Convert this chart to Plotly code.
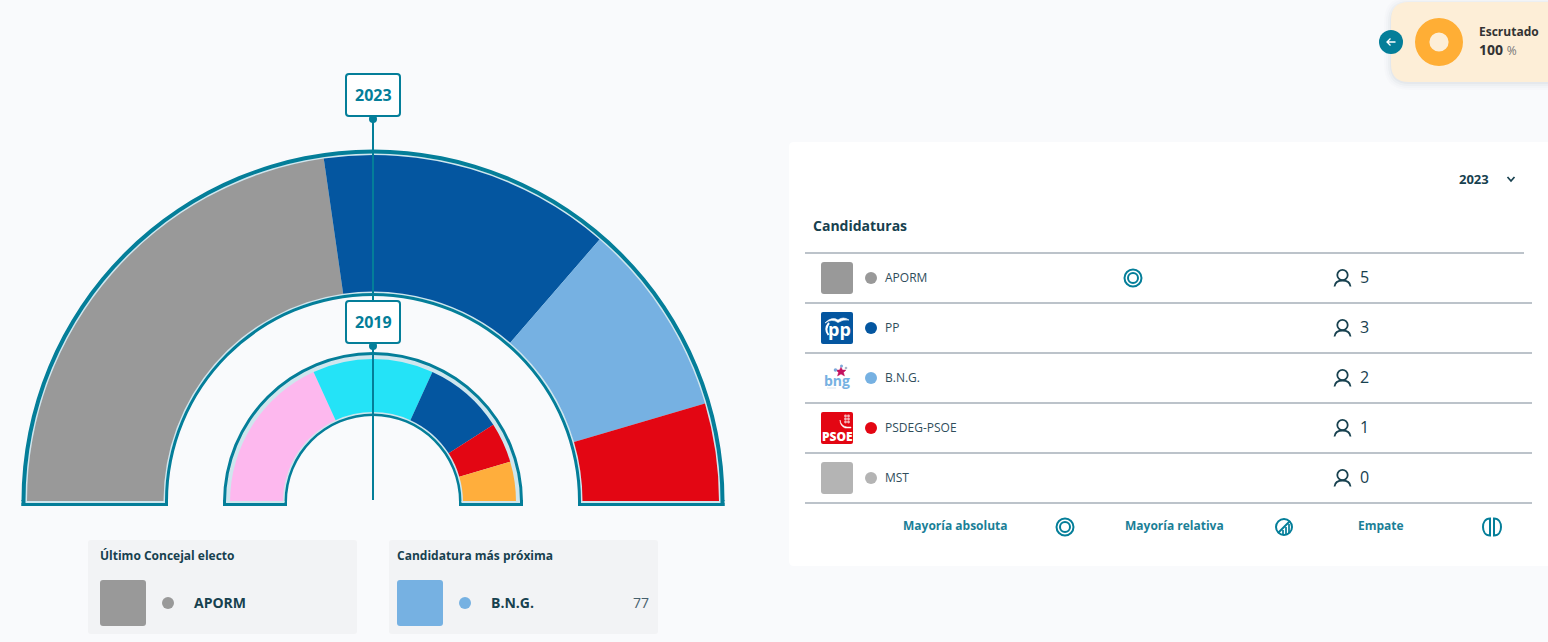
import plotly.graph_objects as go

# ---------- data ----------
PARTIES = ["APORM", "PP", "B.N.G.", "PSDEG-PSOE", "MST"]
PARTY_COLORS = ["#999999", "#0456a0", "#76b1e2", "#e30613", "#b4b4b4"]
SEATS_2023 = [5, 3, 2, 1, 0]
GROUPS_2019 = ["Grupo 1", "Grupo 2", "PP", "PSDEG-PSOE", "Grupo 5"]
COLORS_2019 = ["#fdb8ee", "#24e3f7", "#0456a0", "#e30613", "#ffae3c"]
SEATS_2019 = [4, 3, 2, 1, 1]
YEARS = ["2023", "2019"]
SCRUTINY = [100]
CLOSEST_VOTES = "77"

# ---------- style ----------
W, H = 1548, 642
TEAL = "#047e99"
LIGHT = "#cfe6ee"
DARK = "#17414f"
BG = "#f9fafc"
FONT = "Open Sans"
CX = 373


def rrect(x0, y0, x1, y1, r):
    return (f"M{x0+r},{y0} L{x1-r},{y0} Q{x1},{y0} {x1},{y0+r} L{x1},{y1-r} Q{x1},{y1} {x1-r},{y1} "
            f"L{x0+r},{y1} Q{x0},{y1} {x0},{y1-r} L{x0},{y0+r} Q{x0},{y0} {x0+r},{y0} Z")


shapes, ann = [], []


def box(x0, y0, x1, y1, fill, r=3, line=None, lw=0, layer="below", opacity=1):
    shapes.append(dict(type="path", path=rrect(x0, y0, x1, y1, r), fillcolor=fill, opacity=opacity,
                       line=dict(color=line or fill, width=lw), layer=layer))


def rect(x0, y0, x1, y1, fill, layer="below"):
    shapes.append(dict(type="rect", x0=x0, y0=y0, x1=x1, y1=y1, fillcolor=fill, line=dict(width=0), layer=layer))


def circ(cx, cy, r, fill=None, line=None, lw=0, layer="above"):
    shapes.append(dict(type="circle", x0=cx-r, y0=cy-r, x1=cx+r, y1=cy+r, fillcolor=fill or "rgba(0,0,0,0)",
                       line=dict(color=line or "rgba(0,0,0,0)", width=lw), layer=layer))


def path(d, color, lw=2, fill=None, layer="above"):
    shapes.append(dict(type="path", path=d, line=dict(color=color, width=lw),
                       fillcolor=fill or "rgba(0,0,0,0)", layer=layer))


def txt(x, y, s, size=12, color=DARK, weight=400, anchor="left"):
    ann.append(dict(x=x, y=y, text=s, showarrow=False, xanchor=anchor, yanchor="middle", borderpad=0,
                    font=dict(family=FONT, size=size, color=color, weight=weight)))


fig = go.Figure()


def band(subplot, lo, hi, color):
    fig.add_trace(go.Barpolar(theta=[90], width=[180], r=[hi - lo], base=[lo], subplot=subplot,
                              marker=dict(color=color, line=dict(width=0)), hoverinfo="skip", showlegend=False))


def hemicycle(seats, colors, names, subplot, cy, radii):
    """Rings + one annular sector per group; angles come from the seat counts."""
    r_in, light_in, fill_in, fill_out, light_out, r_out = radii
    R = r_out + 1
    total = sum(seats)
    band(subplot, r_in, r_out, TEAL)
    band(subplot, light_in, light_out, LIGHT)
    start = 0
    for s, c, n in zip(seats, colors, names):
        if s == 0:
            continue
        w = s / total * 180
        fig.add_trace(go.Barpolar(theta=[start + w / 2], width=[w], r=[fill_out - fill_in], base=[fill_in],
                                  subplot=subplot, name=n, marker=dict(color=c, line=dict(width=0)),
                                  showlegend=False, hovertemplate=f"{n}: {s}<extra></extra>"))
        start += w
    return dict(domain=dict(x=[(CX - R) / W, (CX + R) / W], y=[(H - cy) / H, (H - cy + R) / H]),
                sector=[0, 180], bgcolor="rgba(0,0,0,0)", barmode="overlay",
                radialaxis=dict(visible=False, range=[0, R]),
                angularaxis=dict(visible=False, rotation=180, direction="clockwise", thetaunit="degrees"))


RADII_2023 = (205, 208, 209.5, 346, 347.5, 351.5)
RADII_2019 = (86, 88.5, 90, 143, 147, 150)
polar1 = hemicycle(SEATS_2023, PARTY_COLORS, PARTIES, "polar", 501, RADII_2023)
polar2 = hemicycle(SEATS_2019, COLORS_2019, GROUPS_2019, "polar2", 502, RADII_2019)

# base rims of the two hemicycles
for radii in (RADII_2023, RADII_2019):
    r_in, light_in, _, _, light_out, r_out = radii
    for sgn in (-1, 1):
        a, b = sorted([CX + sgn * r_in, CX + sgn * r_out])
        rect(a, 500, b, 506, TEAL)
        la, lb = sorted([CX + sgn * light_in, CX + sgn * light_out])
        rect(la, 501, lb, 503, LIGHT, layer="above")
        rect(a, 503, b, 506, TEAL, layer="above")

# vertical year marker
shapes.append(dict(type="line", x0=CX, x1=CX, y0=119, y1=500, line=dict(color=TEAL, width=2), layer="above"))
for y0, year in zip((74, 301), YEARS):
    box(346, y0, 400, y0 + 42, "#ffffff", 3, TEAL, 2, "above")
    circ(CX, y0 + 45, 4, TEAL)
    txt(CX, y0 + 21, year, 16, TEAL, 700, "center")

# right-hand panel
box(789, 142, 1560, 566, "#ffffff", 5)
txt(1458, 178.5, YEARS[0], 13, DARK, 700)
path("M1507.5,177 L1511,181 L1514.5,177", DARK, 1.7)
txt(812, 225, "Candidaturas", 14, DARK, 700)

ROW0, STEP = 278, 50
shapes.append(dict(type="line", x0=805, x1=1524, y0=253, y1=253, line=dict(color="#bcc3ca", width=2), layer="below"))
for i, (p, c, s) in enumerate(zip(PARTIES, PARTY_COLORS, SEATS_2023)):
    y = ROW0 + i * STEP
    shapes.append(dict(type="line", x0=805, x1=1532, y0=y + 25, y1=y + 25,
                       line=dict(color="#bcc3ca", width=2), layer="below"))
    txt(884, y - 1, p, 12, "#2f4d5b")
    txt(1359, y - 1, str(s), 16, DARK)
    # person icon
    circ(1342.5, y - 3, 5.2, None, DARK, 1.8)
    path(f"M1334.5,{y+8.5} C1335,{y+4} 1339,{y+2.5} 1342.5,{y+2.5} C1346,{y+2.5} 1350,{y+4} 1350.5,{y+8.5}", DARK, 1.8)
    if p not in ("PP", "B.N.G.", "PSDEG-PSOE"):
        box(821, y - 16, 853, y + 16, c, 3)

# party colour dots, table and summary cards
fig.add_trace(go.Scatter(x=[871] * len(PARTIES), y=[ROW0 + i * STEP for i in range(len(PARTIES))], mode="markers",
                         marker=dict(size=12, color=PARTY_COLORS, line=dict(width=0)),
                         text=PARTIES, hoverinfo="text", showlegend=False))

# logos (hand-sketched)
py = ROW0 + STEP
box(821, py - 16, 853, py + 16, PARTY_COLORS[1], 2)
txt(839, py + 1, "pp", 18, "#ffffff", 700, "center")
path(f"M829,{py-5} Q824,{py+1} 828.5,{py+7}", "#ffffff", 2)
path(f"M825,{py-5} Q832,{py-12} 838,{py-8} Q843,{py-12} 849,{py-8} Q843,{py-9} 838,{py-5.5} Q832,{py-10} 825,{py-5} Z",
     "#ffffff", 0.6, "#ffffff")
by = ROW0 + 2 * STEP
txt(837, by + 2, "bng", 14, PARTY_COLORS[2], 700, "center")
path(f"M841,{by-11} L842.5,{by-8} L846,{by-8} L843.5,{by-5.5} L844.5,{by-2} L841,{by-4} L837.5,{by-2} L838.5,{by-5.5} L836,{by-8} L839.5,{by-8} Z",
     "#c4125f", 0.4, "#c4125f")
circ(835.5, by - 8, 1.8, "#7fa8d9")
circ(841.5, by - 12, 1.5, "#7fa8d9")
circ(846, by - 10, 1.3, "#a9b7c9")
shapes.append(dict(type="line", x0=827, x1=836, y0=by + 10, y1=by + 10, line=dict(color="#dbe6ef", width=1), layer="above"))
ry = ROW0 + 3 * STEP
box(821, ry - 16, 853, ry + 16, PARTY_COLORS[3], 2)
txt(837, ry + 8, "PSOE", 12, "#ffffff", 800, "center")
for dx, dy in ((-1.5, -2), (1.5, -2), (-1.5, 1), (1.5, 1), (-1.5, 4), (1.5, 4)):
    circ(847 + dx, ry - 10 + dy, 1.4, "#f5b5b9")
path(f"M840,{ry-8} Q841,{ry-2} 847,{ry-1} L851,{ry-1} L851,{ry} L845,{ry} Q840,{ry-2} 840,{ry-8} Z", "#ffffff", 0.5, "#ffffff")


def ring(cx, cy):
    circ(cx, cy, 8.5, None, TEAL, 2)
    circ(cx, cy, 5, None, TEAL, 2)


ring(1133, ROW0)
FOOT = 525
FOOT_TXT = "#1b7f97"
txt(955, FOOT, "Mayoría absoluta", 12, FOOT_TXT, 700, "center")
ring(1065, FOOT + 2)
txt(1174, FOOT, "Mayoría relativa", 12, FOOT_TXT, 700, "center")
mx, my = 1284, FOOT + 2
circ(mx, my, 8, None, TEAL, 2)
shapes.append(dict(type="line", x0=mx - 6, x1=mx + 6, y0=my + 6, y1=my - 6, line=dict(color=TEAL, width=2), layer="above"))
for dx in (-1, 2, 5):
    shapes.append(dict(type="line", x0=mx + dx, x1=mx + dx, y0=my - dx + 2, y1=my + 7 - (1 if dx == 5 else 0),
                       line=dict(color=TEAL, width=1.7), layer="above"))
txt(1381, FOOT, "Empate", 12, FOOT_TXT, 700, "center")
e = FOOT + 2
path(f"M1490,{e-8.5} C1485,{e-8.5} 1483,{e-4} 1483,{e} C1483,{e+4} 1485,{e+8.5} 1490,{e+8.5} Z", TEAL, 2)
path(f"M1494,{e-8.5} C1499,{e-8.5} 1501,{e-4} 1501,{e} C1501,{e+4} 1499,{e+8.5} 1494,{e+8.5} Z", TEAL, 2)

# summary cards
for x0, title in ((88, "Último Concejal electo"), (389, "Candidatura más próxima")):
    box(x0, 540, x0 + 269, 634, "#f2f3f5", 3)
    txt(x0 + (11 if x0 == 88 else 7), 555, title, 12, DARK, 700)
box(100, 580, 146, 626, PARTY_COLORS[0], 3)
box(397, 580, 443, 626, PARTY_COLORS[2], 3)
fig.add_trace(go.Scatter(x=[168, 465], y=[603, 603], mode="markers", hoverinfo="skip", showlegend=False,
                         marker=dict(size=12, color=[PARTY_COLORS[0], PARTY_COLORS[2]], line=dict(width=0))))
txt(193, 602, PARTIES[0], 14, DARK, 700)
txt(490, 602, PARTIES[2], 14, DARK, 700)
txt(650, 602, CLOSEST_VOTES, 14, "#47606d", 400, "right")

# scrutiny panel
for g, op in ((7, 0.012), (5, 0.016), (3, 0.022), (1, 0.03)):
    box(1391 - g, 2 - g + 2, 1570, 82 + g + 1, "#10243a", 18 + g, opacity=op)
box(1391, 2, 1570, 82, "#fdeed7", 18)
circ(1391, 42, 12, TEAL)
path("M1395.5,42 L1387,42 M1390.5,38.5 L1387,42 L1390.5,45.5", "#ffffff", 1.3)
fig.add_trace(go.Pie(values=SCRUTINY, labels=["Escrutado"], hole=0.4, sort=False, textinfo="none",
                     marker=dict(colors=["#ffae35"], line=dict(width=0)), hoverinfo="skip", showlegend=False,
                     domain=dict(x=[(1439 - 24) / W, (1439 + 24) / W], y=[(H - 42 - 24) / H, (H - 42 + 24) / H])))
txt(1478, 31, "Escrutado", 12, "#333333", 700)
ann.append(dict(x=1478, y=49, text=f"<b>{SCRUTINY[0]}</b> <span style='font-size:12px;color:#777'>%</span>",
                showarrow=False, xanchor="left", yanchor="middle", borderpad=0,
                font=dict(family=FONT, size=14, color="#333333")))

fig.update_layout(
    width=W, height=H, autosize=False, margin=dict(l=0, r=0, t=0, b=0, pad=0),
    paper_bgcolor=BG, plot_bgcolor="rgba(0,0,0,0)", showlegend=False,
    xaxis=dict(range=[0, W], visible=False, fixedrange=True),
    yaxis=dict(range=[H, 0], visible=False, fixedrange=True),
    polar=polar1, polar2=polar2, shapes=shapes, annotations=ann,
)
fig.write_html("out.html", config=dict(displayModeBar=False),
               post_script="document.body.style.margin='0';document.body.style.overflow='hidden';")
